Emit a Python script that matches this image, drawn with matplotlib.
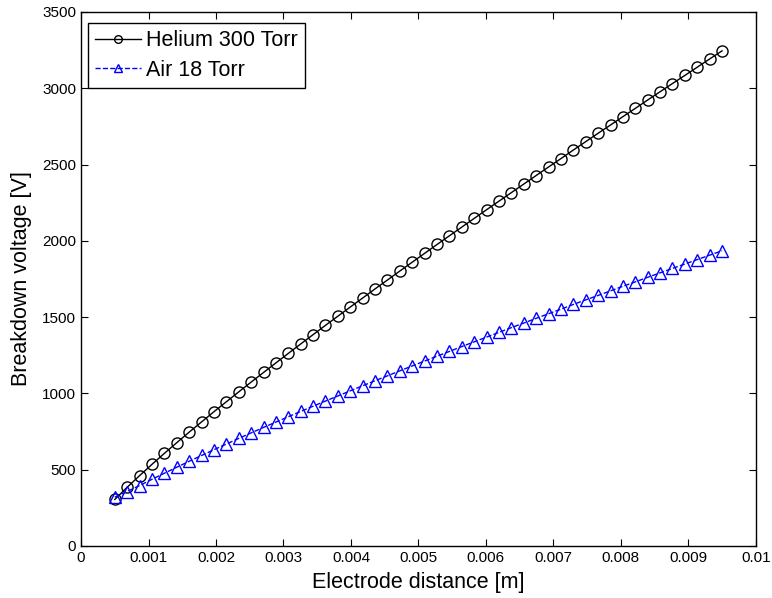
import numpy as np
import matplotlib
matplotlib.use("Agg")
import matplotlib.pyplot as plt

plt.rcParams['font.family'] = ['Liberation Sans', 'DejaVu Sans']

# electrode gap, 50 steps from 0.5 mm to 9.5 mm
distance = np.linspace(0.0005, 0.0095, 50)

# breakdown voltage [V]
helium_300 = [305, 385, 461, 535, 607, 677, 746, 813, 880, 945,
              1010, 1074, 1137, 1200, 1262, 1324, 1385, 1446, 1506, 1566,
              1625, 1685, 1743, 1802, 1860, 1918, 1976, 2033, 2090, 2147,
              2204, 2260, 2316, 2372, 2428, 2484, 2539, 2595, 2650, 2705,
              2759, 2814, 2868, 2923, 2977, 3031, 3084, 3138, 3192, 3245]

air_18 = [320, 357, 396, 437, 477, 516, 555, 593, 631, 668,
          705, 741, 777, 812, 847, 882, 916, 950, 983, 1017,
          1050, 1083, 1115, 1148, 1180, 1212, 1244, 1275, 1307, 1338,
          1369, 1400, 1431, 1461, 1492, 1522, 1552, 1583, 1613, 1642,
          1672, 1702, 1731, 1761, 1790, 1819, 1848, 1877, 1906, 1935]

fig = plt.figure(figsize=(7.72, 5.98), dpi=100)
ax = fig.add_axes([0.105, 0.087, 0.874, 0.893])

ax.plot(distance, helium_300, '-o', color='black', lw=1, ms=8,
        mfc='none', mew=1, label='Helium 300 Torr')
ax.plot(distance, air_18, '--^', color='blue', lw=1, ms=8,
        mfc='none', mew=1, label='Air 18 Torr')

ax.set_xlim(0, 0.01)
ax.set_ylim(0, 3500)
ax.set_xticks(np.arange(0, 0.0101, 0.001))
ax.set_xticklabels(['0', '0.001', '0.002', '0.003', '0.004', '0.005',
                    '0.006', '0.007', '0.008', '0.009', '0.01'])
ax.set_yticks(np.arange(0, 3501, 500))
ax.tick_params(direction='in', top=True, right=True, labelsize=11,
               length=5, width=0.8)
for s in ax.spines.values():
    s.set_linewidth(1)

ax.set_xlabel('Electrode distance [m]', fontsize=15.5, labelpad=5)
ax.set_ylabel('Breakdown voltage [V]', fontsize=15.5, labelpad=7)

leg = ax.legend(loc='upper left', bbox_to_anchor=(0.01, 0.98),
                borderaxespad=0, fontsize=15.5, fancybox=False,
                edgecolor='black', framealpha=1, borderpad=0.35,
                handlelength=2.1, handletextpad=0.25, labelspacing=0.4)
leg.get_frame().set_linewidth(1)
# smaller markers inside the legend box
for h in leg.legend_handles:
    h.set_markersize(5.5)

fig.savefig('out.png', dpi=100)
